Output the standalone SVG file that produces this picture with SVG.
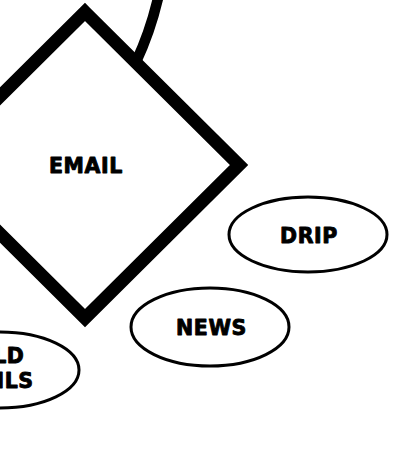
<svg xmlns="http://www.w3.org/2000/svg" width="400" height="454" viewBox="0 0 400 454">
<style>
.lbl{font-family:"DejaVu Sans","Open Sans",sans-serif;font-weight:bold;font-size:20.5px;fill:#000;stroke:#000;stroke-width:0.9px;stroke-linejoin:round;text-anchor:middle;letter-spacing:0.6px}
.ell{fill:#fff;stroke:#000;stroke-width:3}
</style>
<rect width="400" height="454" fill="#fff"/>
<g id="connectors">
<path d="M136,62 Q151,30 159,-6" fill="none" stroke="#000" stroke-width="10.5"/>
</g>
<g id="email">
<polygon points="85,12 239,165 85,318 -69,165" fill="#fff" stroke="#000" stroke-width="13"/>
<text class="lbl" x="86" y="173">EMAIL</text>
</g>
<g id="drip">
<ellipse class="ell" cx="308" cy="234.5" rx="79" ry="37.5"/>
<text class="lbl" x="309" y="243">DRIP</text>
</g>
<g id="news">
<ellipse class="ell" cx="210" cy="327" rx="79" ry="39"/>
<text class="lbl" x="211.5" y="335">NEWS</text>
</g>
<g id="cold">
<ellipse class="ell" cx="0" cy="370" rx="79" ry="38"/>
<text class="lbl" x="-8" y="363">COLD</text>
<text class="lbl" x="-11" y="388">EMAILS</text>
</g>
</svg>
